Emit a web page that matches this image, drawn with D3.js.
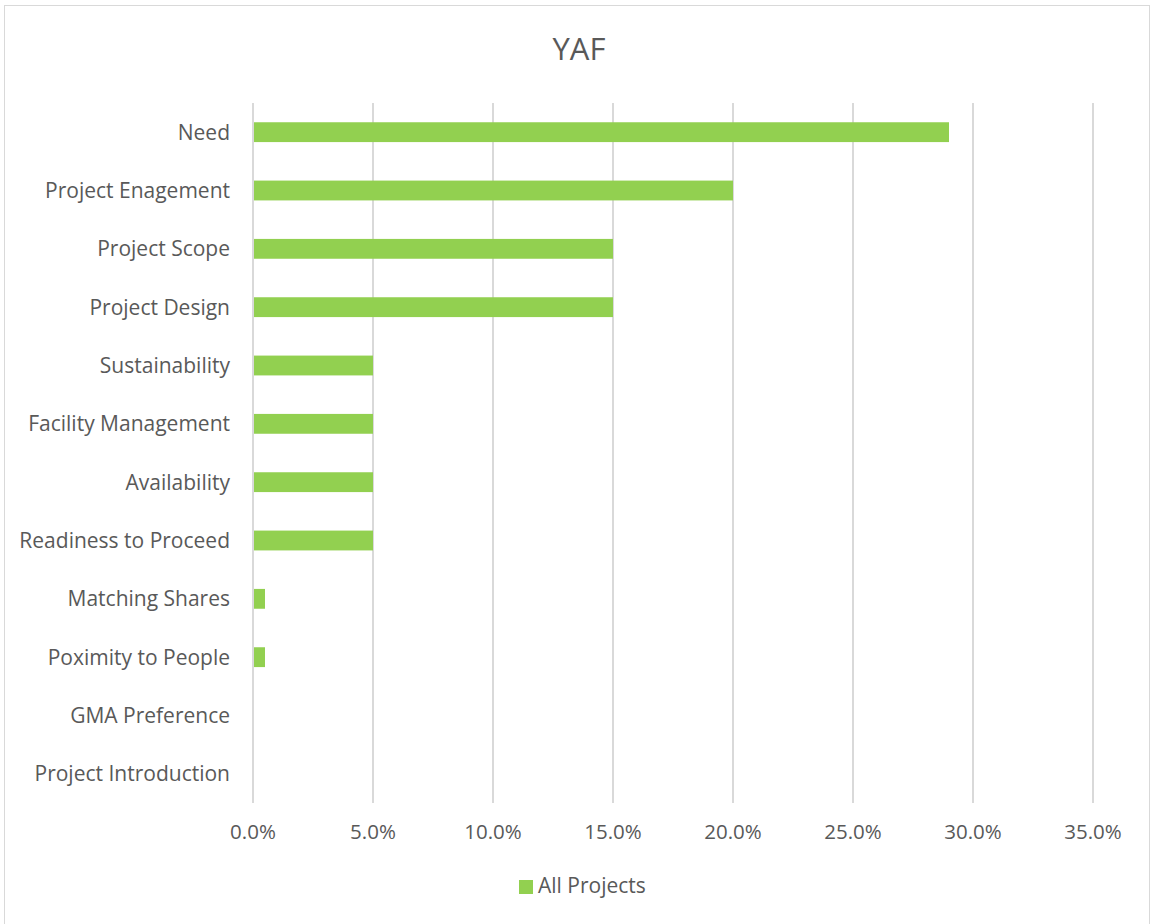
<!DOCTYPE html>
<html>
<head>
<meta charset="utf-8">
<script src="https://cdn.jsdelivr.net/npm/d3@7"></script>
<style>
  body { margin: 0; background: #fff; }
  text { font-family: "Open Sans", sans-serif; fill: #595959; }
</style>
</head>
<body>
<div id="chart"></div>
<script>
// categories top to bottom, values in percent
var categories = ["Need", "Project Enagement", "Project Scope", "Project Design",
  "Sustainability", "Facility Management", "Availability", "Readiness to Proceed",
  "Matching Shares", "Poximity to People", "GMA Preference", "Project Introduction"];
var allProjects = [29, 20, 15, 15, 5, 5, 5, 5, 0.5, 0.5, 0, 0];
var xTicks = [0, 5, 10, 15, 20, 25, 30, 35];
var seriesName = "All Projects";

var width = 1151, height = 924;
var plotLeft = 253, plotRight = 1093, plotTop = 103, plotBottom = 803;
var green = "#92d050";

var svg = d3.select('#chart').append('svg').attr('width', width).attr('height', height);

// outer frame
svg.append('rect').attr('x', 4.5).attr('y', 5.5).attr('width', width - 6).attr('height', height - 4)
  .style('fill', 'none').style('stroke', '#d9d9d9');

svg.append('text').attr('x', 579).attr('y', 60).attr('text-anchor', 'middle')
  .style('font-size', '31px').text("YAF");

var x = d3.scaleLinear().domain([0, 35]).range([plotLeft, plotRight]);
var y = d3.scaleBand().domain(categories).range([plotTop, plotBottom]).paddingInner(0.66).paddingOuter(0.33);

// gridlines
svg.selectAll('.grid').data(xTicks).enter().append('line')
  .attr('x1', function (d) { return x(d); }).attr('x2', function (d) { return x(d); })
  .attr('y1', plotTop).attr('y2', plotBottom)
  .style('stroke', '#d9d9d9').style('stroke-width', 2);

// bars
svg.selectAll('.bar').data(categories).enter().append('rect')
  .attr('x', x(0) + 1)
  .attr('y', function (d) { return y(d); })
  .attr('width', function (d, i) { return Math.max(0, x(allProjects[i]) - x(0) - 1); })
  .attr('height', y.bandwidth())
  .style('fill', green);

// category labels
svg.selectAll('.cat').data(categories).enter().append('text')
  .attr('x', 230)
  .attr('y', function (d) { return y(d) + y.bandwidth() / 2; })
  .attr('dy', '0.35em').attr('text-anchor', 'end')
  .style('font-size', '21px').text(function (d) { return d; });

// x tick labels
svg.selectAll('.tick').data(xTicks).enter().append('text')
  .attr('x', function (d) { return x(d); }).attr('y', 832)
  .attr('text-anchor', 'middle').attr('dy', '0.35em').style('font-size', '20.5px')
  .text(function (d) { return d3.format('.1f')(d) + '%'; });

// legend
svg.append('rect').attr('x', 519).attr('y', 880).attr('width', 14).attr('height', 14).style('fill', green);
svg.append('text').attr('x', 538).attr('y', 886).attr('dy', '0.35em')
  .style('font-size', '21px').text(seriesName);
</script>
</body>
</html>
